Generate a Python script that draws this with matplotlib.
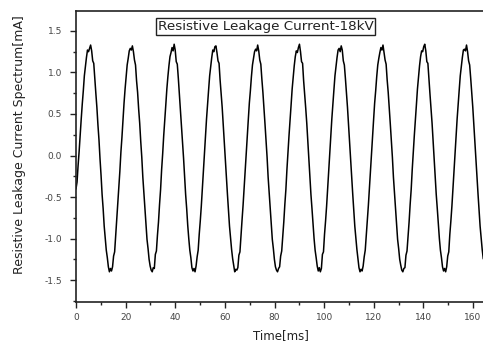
import numpy as np
import matplotlib
matplotlib.use("Agg")
import matplotlib.pyplot as plt
from matplotlib.ticker import MultipleLocator

# ---- data ----
sample_interval_ms = 0.42075

cycle_1 = [-0.40, -0.32, -0.12, 0.05, 0.25, 0.44, 0.62, 0.78, 0.96, 1.07, 1.18, 1.27, 1.25, 1.29, 1.33, 1.26, 1.14, 1.11, 0.92, 0.75,
           0.58, 0.37, 0.19, -0.04, -0.24, -0.47, -0.64, -0.85, -0.99, -1.14, -1.23, -1.34, -1.40, -1.36, -1.39, -1.34, -1.21, -1.16, -0.97, -0.78]
cycle_2 = [-0.60, -0.39, -0.19, 0.04, 0.22, 0.43, 0.63, 0.80, 0.94, 1.09, 1.17, 1.26, 1.29, 1.27, 1.32, 1.25, 1.15, 1.09, 0.90, 0.76,
           0.56, 0.39, 0.17, -0.02, -0.26, -0.45, -0.66, -0.83, -1.01, -1.12, -1.25, -1.33, -1.38, -1.40, -1.35, -1.36, -1.19, -1.15, -0.96, -0.80]
cycle_3 = [-0.59, -0.41, -0.17, 0.02, 0.24, 0.42, 0.61, 0.80, 0.95, 1.08, 1.19, 1.24, 1.30, 1.26, 1.34, 1.27, 1.13, 1.10, 0.93, 0.74,
           0.57, 0.38, 0.19, -0.03, -0.25, -0.47, -0.64, -0.84, -1.00, -1.14, -1.23, -1.35, -1.39, -1.36, -1.40, -1.33, -1.22, -1.14, -0.95, -0.79]
cycle_4 = [-0.61, -0.40, -0.18, 0.04, 0.23, 0.44, 0.62, 0.79, 0.96, 1.07, 1.18, 1.27, 1.25, 1.31, 1.32, 1.24, 1.14, 1.11, 0.91, 0.75,
           0.58, 0.37, 0.18, -0.04, -0.24, -0.46, -0.65, -0.85, -0.99, -1.13, -1.24, -1.32, -1.40, -1.37, -1.38, -1.35, -1.20, -1.16, -0.96, -0.78]
cycle_5 = [-0.60, -0.39, -0.19, 0.03, 0.22, 0.43, 0.63, 0.78, 0.95, 1.09, 1.17, 1.25, 1.28, 1.26, 1.33, 1.26, 1.15, 1.10, 0.92, 0.76,
           0.56, 0.38, 0.19, -0.02, -0.26, -0.45, -0.66, -0.84, -1.01, -1.12, -1.25, -1.34, -1.38, -1.40, -1.36, -1.34, -1.21, -1.15, -0.97, -0.80]
cycle_6 = [-0.59, -0.41, -0.17, 0.04, 0.24, 0.42, 0.61, 0.80, 0.94, 1.08, 1.19, 1.26, 1.24, 1.30, 1.34, 1.25, 1.13, 1.11, 0.90, 0.74,
           0.57, 0.39, 0.17, -0.03, -0.25, -0.47, -0.64, -0.83, -1.00, -1.14, -1.23, -1.33, -1.39, -1.35, -1.40, -1.36, -1.19, -1.16, -0.95, -0.79]
cycle_7 = [-0.61, -0.40, -0.18, 0.02, 0.23, 0.44, 0.62, 0.79, 0.96, 1.07, 1.18, 1.27, 1.29, 1.25, 1.32, 1.27, 1.14, 1.09, 0.93, 0.75,
           0.58, 0.37, 0.18, -0.04, -0.24, -0.46, -0.65, -0.85, -0.99, -1.13, -1.24, -1.35, -1.40, -1.37, -1.39, -1.33, -1.22, -1.14, -0.96, -0.78]
cycle_8 = [-0.60, -0.39, -0.19, 0.03, 0.22, 0.43, 0.63, 0.78, 0.95, 1.09, 1.17, 1.24, 1.30, 1.27, 1.33, 1.24, 1.15, 1.10, 0.91, 0.76,
           0.56, 0.38, 0.19, -0.02, -0.26, -0.45, -0.66, -0.84, -1.01, -1.12, -1.25, -1.32, -1.38, -1.40, -1.36, -1.35, -1.20, -1.15, -0.97, -0.80]
cycle_9 = [-0.59, -0.41, -0.17, 0.04, 0.24, 0.42, 0.61, 0.80, 0.94, 1.08, 1.19, 1.26, 1.25, 1.31, 1.34, 1.26, 1.13, 1.11, 0.92, 0.74,
           0.57, 0.39, 0.17, -0.03, -0.25, -0.47, -0.64, -0.83, -1.00, -1.14, -1.23, -1.34, -1.39, -1.36, -1.40, -1.34, -1.21, -1.16, -0.95, -0.79]
cycle_10 = [-0.61, -0.40, -0.18, 0.02, 0.23, 0.44, 0.62, 0.79, 0.96, 1.07, 1.18, 1.27, 1.28, 1.26, 1.33, 1.25, 1.14, 1.09, 0.93, 0.75,
            0.58, 0.37, 0.18, -0.04, -0.24, -0.46, -0.65, -0.85, -0.99, -1.13, -1.24]

x_ticks = [0, 20, 40, 60, 80, 100, 120, 140, 160]
y_ticks = [-1.5, -1.0, -0.5, 0.0, 0.5, 1.0, 1.5]

title_text = "Resistive Leakage Current-18kV"
x_label = "Time[ms]"
y_label = "Resistive Leakage Current Spectrum[mA]"

current = np.array(cycle_1 + cycle_2 + cycle_3 + cycle_4 + cycle_5 +
                   cycle_6 + cycle_7 + cycle_8 + cycle_9 + cycle_10)
time_ms = np.arange(len(current)) * sample_interval_ms

# ---- figure ----
plt.rcParams['font.family'] = ['DejaVu Sans']
fig = plt.figure(figsize=(4.83, 3.43), dpi=100)
ax = fig.add_axes([76 / 483, 1 - 301.7 / 343, 1 - 76 / 483, (301.7 - 11) / 343])

ax.plot(time_ms, current, color='black', linewidth=1.1)

ax.set_xlim(0, 164.0)
ax.set_ylim(-1.76, 1.74)
ax.set_xticks(x_ticks)
ax.set_yticks(y_ticks)
ax.set_yticklabels([f"{v:.1f}" for v in y_ticks])
ax.xaxis.set_minor_locator(MultipleLocator(10))
ax.yaxis.set_minor_locator(MultipleLocator(0.25))

ax.tick_params(which='major', direction='out', length=4.5, width=1.0, color='#222222',
               labelsize=6.5, labelcolor='#444444')
ax.tick_params(which='minor', direction='out', length=2.5, width=1.0, color='#222222')
ax.tick_params(axis='y', which='major', pad=5.5)
ax.tick_params(axis='x', which='major', pad=3.5)

for side in ['left', 'bottom', 'top']:
    ax.spines[side].set_linewidth(1.2)
    ax.spines[side].set_color('#222222')
ax.spines['right'].set_visible(False)

fig.text(281 / 483, 1 - 336 / 343, x_label, ha='center', va='center',
         fontsize=8.5, color='#222222')
fig.text(20 / 483, 1 - 145 / 343, y_label, ha='center', va='center',
         rotation=90, fontsize=9.0, color='#222222')

fig.text(265.4 / 483, 1 - 26.5 / 343, title_text, ha='center', va='center',
         fontsize=9.7, color='#222222',
         bbox=dict(boxstyle='square,pad=0.15', facecolor='white',
                   edgecolor='#222222', linewidth=1.0))

fig.savefig("out.png", dpi=100)
